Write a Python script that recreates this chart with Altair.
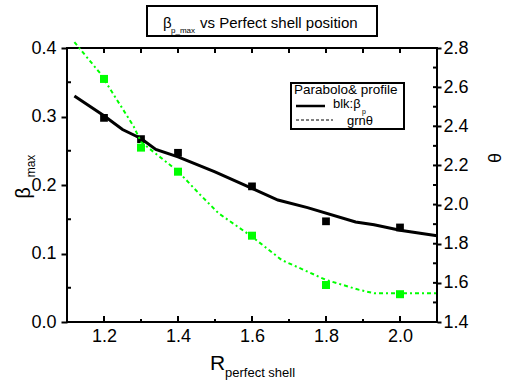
import altair as alt
import pandas as pd

FONT = "Liberation Sans"

# measured points
x_pts = [1.2, 1.3, 1.4, 1.6, 1.8, 2.0]
beta_pts = [0.298, 0.267, 0.247, 0.198, 0.147, 0.138]
theta_pts = [2.642, 2.291, 2.168, 1.841, 1.589, 1.542]

# fitted curves
beta_fit_x = [1.12, 1.20, 1.25, 1.30, 1.34, 1.40, 1.50, 1.60, 1.67, 1.75, 1.88, 1.93, 2.00, 2.10]
beta_fit_y = [0.330, 0.301, 0.281, 0.268, 0.252, 0.241, 0.219, 0.195, 0.178, 0.167, 0.146, 0.142, 0.134, 0.126]
theta_fit_x = [1.12, 1.19, 1.28, 1.30, 1.40, 1.46, 1.51, 1.60, 1.68, 1.74, 1.80, 1.89, 1.93, 2.10]
theta_fit_y = [2.83, 2.67, 2.40, 2.32, 2.17, 2.05, 1.955, 1.836, 1.717, 1.666, 1.615, 1.564, 1.547, 1.547]

# tick values
x_major = [1.2, 1.4, 1.6, 1.8, 2.0]
x_minor = [1.1, 1.3, 1.5, 1.7, 1.9, 2.1]
beta_major = [0.0, 0.1, 0.2, 0.3, 0.4]
beta_minor = [0.05, 0.15, 0.25, 0.35]
theta_major = [1.4, 1.6, 1.8, 2.0, 2.2, 2.4, 2.6, 2.8]
theta_minor = [1.5, 1.7, 1.9, 2.1, 2.3, 2.5, 2.7]

W, H = 370, 274
GREEN = "#00ff00"
LBL = 18

xs = alt.Scale(domain=[1.1, 2.1], nice=False, zero=False)
ys_b = alt.Scale(domain=[0.0, 0.4], nice=False, zero=False)
ys_t = alt.Scale(domain=[1.4, 2.8], nice=False, zero=False)

pts_df = pd.DataFrame({"x": x_pts, "beta": beta_pts, "theta": theta_pts})
bfit_df = pd.DataFrame({"x": beta_fit_x, "y": beta_fit_y})
tfit_df = pd.DataFrame({"x": theta_fit_x, "y": theta_fit_y})

x_axis = alt.Axis(values=x_major, format=".1f", ticks=False, domain=False, grid=False,
                  labelFontSize=LBL, labelFont=FONT, labelPadding=5, labelColor="black", title=None)
left_axis = alt.Axis(values=beta_major, format=".1f", tickSize=6, tickWidth=2, tickColor="black",
                     domain=False, grid=False, labelFontSize=LBL, labelFont=FONT, labelPadding=5,
                     labelColor="black", title=None)
right_axis = alt.Axis(values=theta_major, format=".1f", orient="right", tickSize=4, tickWidth=2,
                      tickColor="black", domain=False, grid=False, labelFontSize=LBL, labelFont=FONT,
                      labelPadding=2, labelColor="black", title=None)

X = alt.X("x:Q", scale=xs, axis=x_axis)

beta_line = alt.Chart(bfit_df).mark_line(color="black", strokeWidth=3, clip=False).encode(
    x=X, y=alt.Y("y:Q", scale=ys_b, axis=left_axis), order="x:Q")
beta_sq = alt.Chart(pts_df).mark_square(color="black", size=60, opacity=1).encode(
    x=X, y=alt.Y("beta:Q", scale=ys_b, axis=left_axis))
left_minor = alt.Chart(pd.DataFrame({"v": beta_minor})).mark_rule(color="black", strokeWidth=2).encode(
    y=alt.Y("v:Q", scale=ys_b, axis=left_axis), x=alt.value(0), x2=alt.value(4))
left = alt.layer(beta_line, beta_sq, left_minor)

theta_line = alt.Chart(tfit_df).mark_line(color=GREEN, strokeWidth=2, strokeDash=[4, 3, 2, 3], clip=False).encode(
    x=X, y=alt.Y("y:Q", scale=ys_t, axis=right_axis), order="x:Q")
theta_sq = alt.Chart(pts_df).mark_square(color=GREEN, size=64, opacity=1).encode(
    x=X, y=alt.Y("theta:Q", scale=ys_t, axis=right_axis))
right_minor = alt.Chart(pd.DataFrame({"v": theta_minor + theta_major[1:-1]})).mark_rule(color="black", strokeWidth=2).encode(
    y=alt.Y("v:Q", scale=ys_t, axis=right_axis), x=alt.value(W - 4), x2=alt.value(W))
right = alt.layer(theta_line, theta_sq, right_minor)

XV = alt.X("v:Q", scale=xs, axis=x_axis)
bot_major = alt.Chart(pd.DataFrame({"v": x_major})).mark_rule(color="black", strokeWidth=2).encode(
    x=XV, y=alt.value(H), y2=alt.value(H - 6))
bot_minor = alt.Chart(pd.DataFrame({"v": x_minor})).mark_rule(color="black", strokeWidth=2).encode(
    x=XV, y=alt.value(H), y2=alt.value(H - 3))
top_ticks = alt.Chart(pd.DataFrame({"v": x_major + x_minor})).mark_rule(color="black", strokeWidth=2).encode(
    x=XV, y=alt.value(0), y2=alt.value(5))


def txt(s, x, y, size, align="left", baseline="alphabetic", angle=0, color="black"):
    kw = dict(align=align, baseline=baseline, fontSize=size, font=FONT, color=color)
    enc = dict(x=alt.value(x), y=alt.value(y), text="t:N")
    if angle:
        kw["angle"] = angle
        enc["angle"] = alt.value(angle)
    return alt.Chart(pd.DataFrame({"t": [s]})).mark_text(**kw).encode(**enc)


def box(x1, y1, x2, y2):
    return alt.Chart(pd.DataFrame({"a": [0]})).mark_rect(
        fill="white", stroke="black", strokeWidth=2).encode(
        x=alt.value(x1), x2=alt.value(x2), y=alt.value(y1), y2=alt.value(y2))


def seg(x1, x2, y, width, dash=None):
    kw = dict(color="black", strokeWidth=width)
    if dash:
        kw["strokeDash"] = dash
    return alt.Chart(pd.DataFrame({"a": [0]})).mark_rule(**kw).encode(
        x=alt.value(x1), x2=alt.value(x2), y=alt.value(y))


# title
title_layers = [
    box(80, -42, 310, -12),
    txt("β", 96, -20, 15),
    txt("p_max", 104, -15, 8),
    txt("vs Perfect shell position", 133, -20, 15),
]

# legend
legend_layers = [
    box(224, 35, 337, 81),
    txt("Parabolo& profile", 227, 46, 13.5),
    seg(229, 258, 58, 2.5),
    txt("blk:β", 266, 59.5, 13),
    txt("p", 295, 65.5, 7),
    seg(229, 266, 72, 1, [3, 2]),
    txt("grnθ", 280, 77, 13),
]

# axis titles
axis_title_layers = [
    txt("β", -43, 145, 20, align="center", baseline="middle", angle=270),
    txt("max", -36, 118, 12, align="center", baseline="middle", angle=270),
    txt("θ", 429, 110, 18, align="center", baseline="middle", angle=270),
    txt("R", 143, 322, 21),
    txt("perfect shell", 158, 329, 13),
]

chart = alt.layer(
    left, right, bot_major, bot_minor, top_ticks,
    *title_layers, *legend_layers, *axis_title_layers
).resolve_scale(y="independent").properties(
    width=W, height=H,
    autosize=alt.AutoSizeParams(type="none"),
    padding={"left": 67, "top": 48, "right": 71, "bottom": 59},
    background="white",
).configure_view(stroke="black", strokeWidth=2)

chart.save("out.html", embed_options={"renderer": "svg", "actions": False})
